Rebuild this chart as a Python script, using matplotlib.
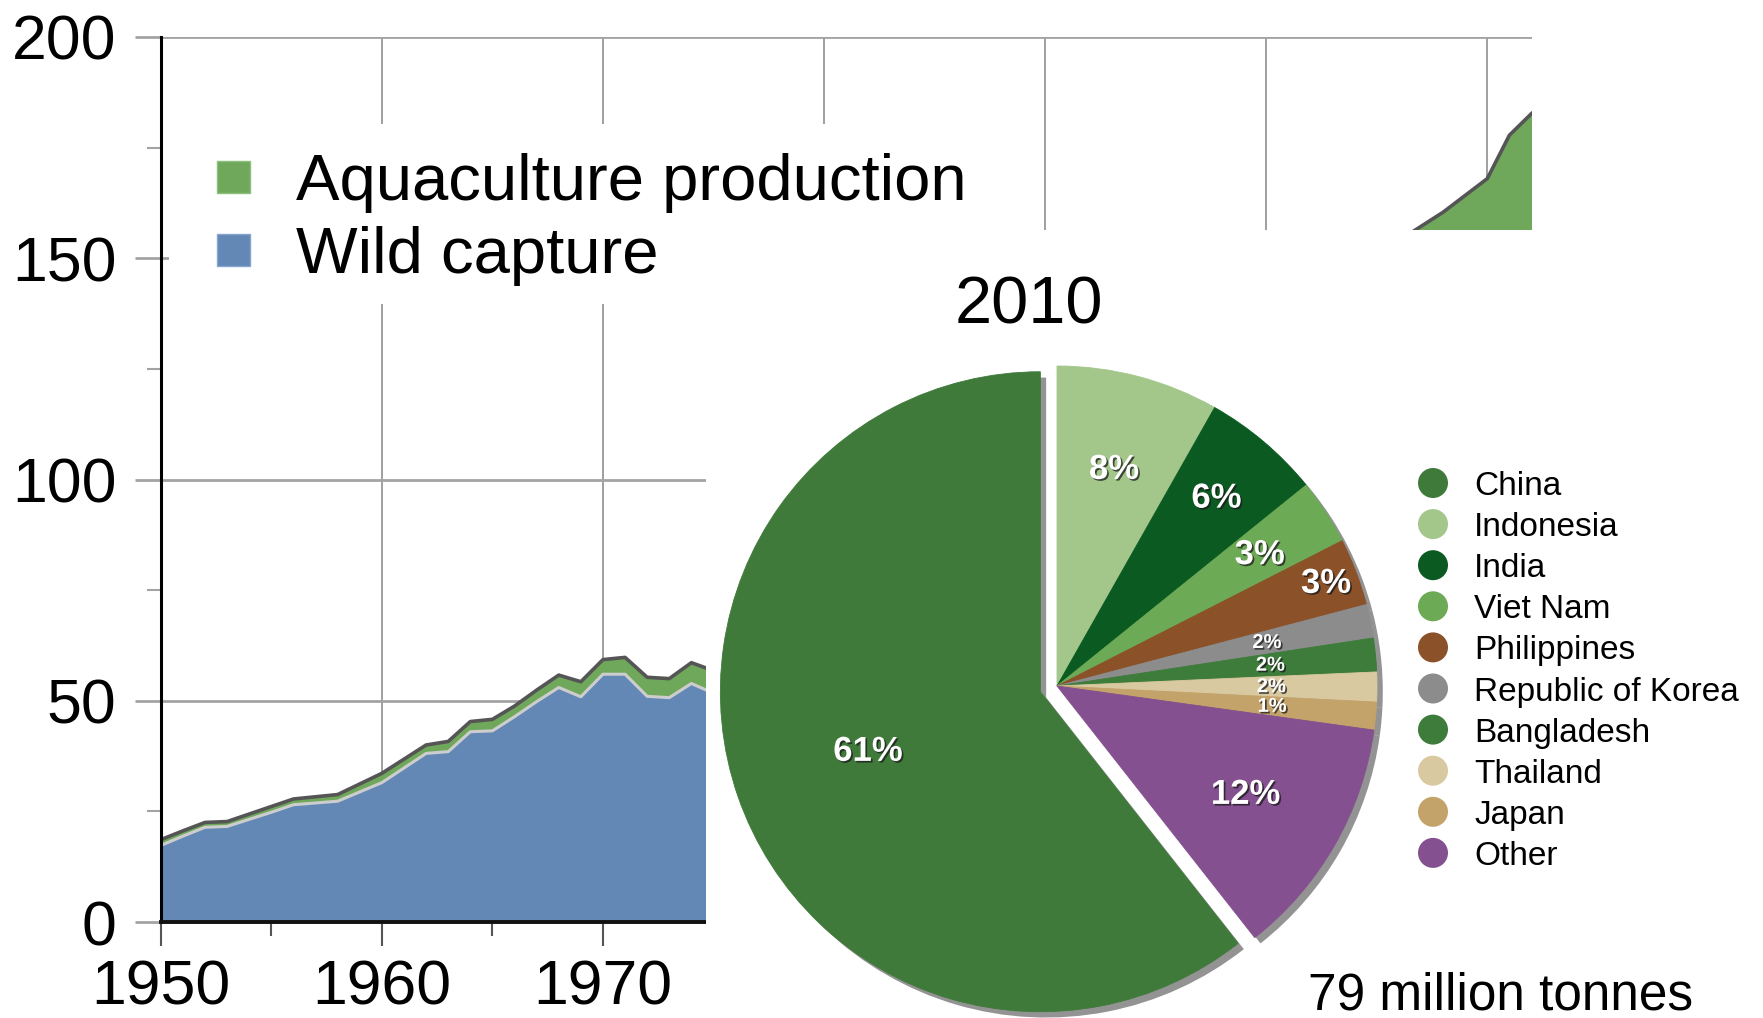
import numpy as np
import matplotlib
matplotlib.use('Agg')
import matplotlib.pyplot as plt
import matplotlib.patheffects as pe
from matplotlib.patches import Rectangle, Circle
from matplotlib.ticker import MultipleLocator

plt.rcParams['font.family'] = ['Liberation Sans', 'DejaVu Sans']

# world production, million tonnes (years under the pie panel are not readable)
years = [1950, 1951, 1952, 1953, 1954, 1955, 1956, 1957, 1958, 1959,
         1960, 1961, 1962, 1963, 1964, 1965, 1966, 1967, 1968, 1969,
         1970, 1971, 1972, 1973, 1974, 1975,
         2006, 2008, 2010, 2011, 2012]
wild_capture = [17.3, 19.4, 21.4, 21.6, 23.2, 24.8, 26.5, 26.9, 27.3, 29.4,
                31.5, 34.8, 38.1, 38.5, 43.0, 43.2, 46.4, 49.8, 53.0, 50.9,
                56.0, 56.0, 51.0, 50.7, 53.9, 51.7,
                90.0, 90.0, 89.0, 93.0, 91.0]
aquaculture = [1.3, 1.2, 1.1, 1.1, 1.2, 1.3, 1.3, 1.4, 1.5, 1.8,
               2.1, 2.0, 1.9, 2.3, 2.3, 2.6, 2.4, 2.6, 2.8, 3.4,
               3.3, 3.8, 4.3, 4.3, 4.7, 5.1,
               64.0, 70.4, 79.0, 84.8, 91.7]
# decade labels left uncovered by the pie panel
x_tick_labels = ['1950', '1960', '1970', '', '', '', '']

# aquaculture 2010 by country, percent
countries = ['China', 'Indonesia', 'India', 'Viet Nam', 'Philippines',
             'Republic of Korea', 'Bangladesh', 'Thailand', 'Japan', 'Other']
shares = [60.6, 8.2, 6.0, 3.3, 3.4, 1.7, 1.7, 1.5, 1.4, 12.2]
share_labels = ['61%', '8%', '6%', '3%', '3%', '2%', '2%', '2%', '1%', '12%']
pie_colors = ['#3f7a3a', '#a3c68a', '#0b5a22', '#6daa55', '#8b5128',
              '#8c8c8c', '#3d7c3a', '#d9c9a0', '#c4a36a', '#84508f']

W, H = 1763, 1018
fig = plt.figure(figsize=(W / 100, H / 100), dpi=100)

# ---- stacked area chart
ax = fig.add_axes([160.8 / W, (H - 922) / H, (1531.5 - 160.8) / W, (922 - 37) / H])
yrs = np.array(years)
wild = np.array(wild_capture)
total = wild + np.array(aquaculture)
ax.fill_between(yrs, 0, wild, color='#6388b6', lw=0)
ax.fill_between(yrs, wild, total, color='#6fa85a', lw=0)
ax.plot(yrs, wild, color='#cdcdcd', lw=2.2)
ax.plot(yrs, total, color='#555555', lw=2.6)
ax.set_xlim(1950, 2012)
ax.set_ylim(0, 200)
ax.set_axisbelow(True)
ax.set_xticks(range(1950, 2011, 10))
ax.set_xticklabels(x_tick_labels)
ax.xaxis.set_minor_locator(MultipleLocator(5))
ax.yaxis.set_major_locator(MultipleLocator(50))
ax.yaxis.set_minor_locator(MultipleLocator(25))
ax.grid(axis='y', which='major', color='#a3a3a3', lw=2)
ax.grid(axis='x', which='major', color='#8f8f8f', lw=1.2)
ax.tick_params(axis='y', which='major', length=19, width=2, color='#a3a3a3',
               labelsize=45, pad=13)
ax.tick_params(axis='y', which='minor', length=10, width=1.5, color='#a3a3a3')
ax.tick_params(axis='x', which='major', length=17, width=1.5, color='#555555',
               labelsize=45, pad=9)
ax.tick_params(axis='x', which='minor', length=10, width=1.5, color='#555555')
for s in ['top', 'right']:
    ax.spines[s].set_visible(False)
ax.spines['left'].set_linewidth(2.2)
ax.spines['bottom'].set_linewidth(2.8)
ax.spines['left'].set_color('black')
ax.spines['bottom'].set_color('#111111')

# ---- overlay in image pixel coordinates
ov = fig.add_axes([0, 0, 1, 1])
ov.set_xlim(0, W)
ov.set_ylim(H, 0)
ov.axis('off')

ov.add_patch(Rectangle((169, 124), 843, 180, facecolor='white', edgecolor='none'))
ov.add_patch(Rectangle((217, 161), 33, 32, facecolor='#6fa85a', edgecolor='#8cc07a', lw=1))
ov.add_patch(Rectangle((217, 234), 33, 32, facecolor='#6388b6', edgecolor='#86a6cf', lw=1))
ov.text(296, 200, 'Aquaculture production', fontsize=47, va='baseline', ha='left')
ov.text(296, 273, 'Wild capture', fontsize=47, va='baseline', ha='left')

ov.add_patch(Rectangle((706, 230), W - 706, H - 230, facecolor='white', edgecolor='none'))
ov.text(1029, 324, '2010', fontsize=48, ha='center', va='baseline')
ov.text(1308, 1009, '79 million tonnes', fontsize=37, ha='left', va='baseline')

for i, (name, col) in enumerate(zip(countries, pie_colors)):
    yc = 483 + i * 41.1
    ov.add_patch(Circle((1433, yc), 15, facecolor=col, edgecolor='none'))
    ov.text(1474, yc + 12, name, fontsize=24, ha='left', va='baseline')

# ---- pie
axp = fig.add_axes([657 / W, -68 / H, 800 / W, 800 / H])
start = 90 + 360 * shares[0] / sum(shares)
explode = [0.055] + [0] * (len(shares) - 1)
wedges, _ = axp.pie(shares, colors=pie_colors, startangle=start, counterclock=False,
                    explode=explode, radius=1,
                    wedgeprops={'linewidth': 0.6},
                    shadow={'ox': 0.013, 'oy': -0.013, 'facecolor': '#3a3a3a',
                            'edgecolor': 'none', 'alpha': 0.55})
for w in wedges:
    w.set_edgecolor(w.get_facecolor())
axp.set_xlim(-1.25, 1.25)
axp.set_ylim(-1.25, 1.25)
axp.axis('off')

label_dist = [0.57, 0.70, 0.77, 0.755, 0.90, 0.67, 0.67, 0.67, 0.675, 0.68]
label_size = [25, 25, 25, 25, 25, 14.5, 14.5, 14.5, 14.5, 25]
for w, lab, d, fs in zip(wedges, share_labels, label_dist, label_size):
    th = np.deg2rad((w.theta1 + w.theta2) / 2)
    cx, cy = w.center
    axp.text(cx + d * np.cos(th), cy + d * np.sin(th), lab, color='white',
             fontsize=fs, fontweight='bold', ha='center', va='center',
             path_effects=[pe.withSimplePatchShadow(offset=(1.2, -1.2),
                                                     shadow_rgbFace='#1a1a1a', alpha=0.75)])

fig.savefig('out.png', dpi=100, facecolor='white')
